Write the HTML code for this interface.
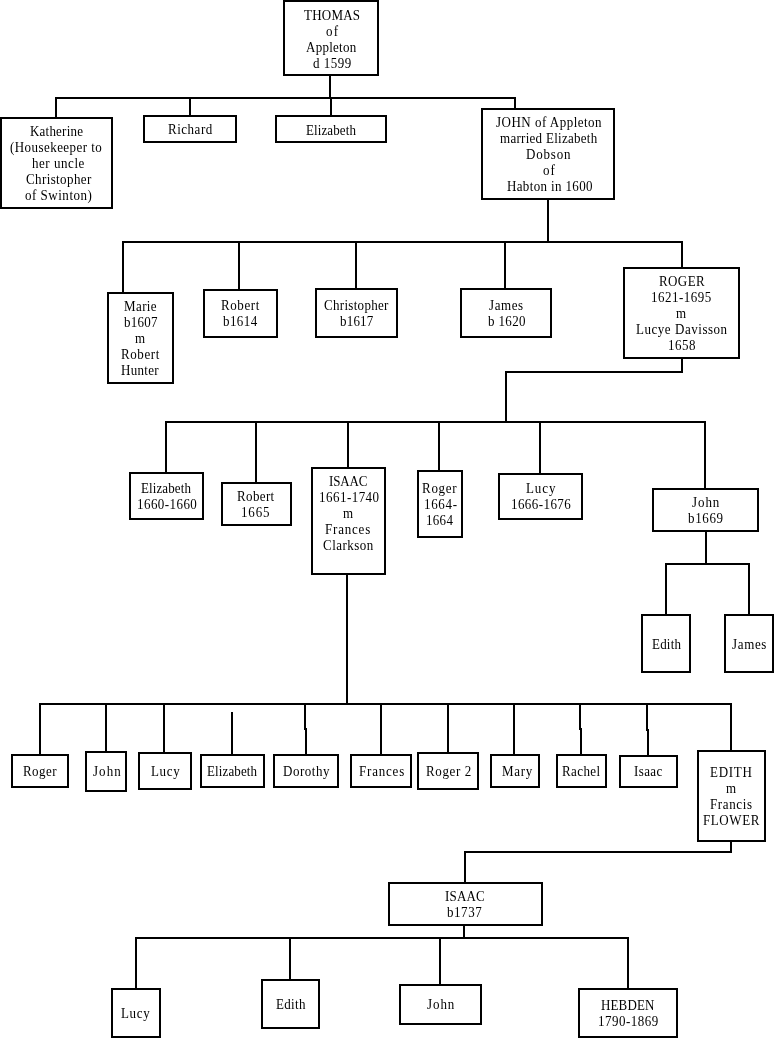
<!DOCTYPE html>
<html><head><meta charset="utf-8"><style>
html,body{margin:0;padding:0;background:#fff;}
body{position:relative;overflow:hidden;font-family:"Liberation Serif",serif;font-size:13px;line-height:16px;color:#000;}
i{position:absolute;background:#000;display:block;}
b{position:absolute;border:2px solid #000;display:block;}
p{position:absolute;margin:0;white-space:nowrap;height:16px;transform:scaleY(1.15);transform-origin:0 12px;will-change:transform;-webkit-text-stroke:0px #000;text-shadow:none;}
body{width:774px;height:1038px;}
</style></head><body>
<i style="left:329px;top:76px;width:2px;height:23px"></i>
<i style="left:55px;top:97px;width:461px;height:2px"></i>
<i style="left:55px;top:97px;width:2px;height:22px"></i>
<i style="left:189px;top:97px;width:2px;height:20px"></i>
<i style="left:330px;top:97px;width:2px;height:20px"></i>
<i style="left:514px;top:97px;width:2px;height:13px"></i>
<i style="left:547px;top:200px;width:2px;height:43px"></i>
<i style="left:122px;top:241px;width:561px;height:2px"></i>
<i style="left:122px;top:241px;width:2px;height:53px"></i>
<i style="left:238px;top:241px;width:2px;height:50px"></i>
<i style="left:355px;top:241px;width:2px;height:49px"></i>
<i style="left:504px;top:241px;width:2px;height:49px"></i>
<i style="left:681px;top:241px;width:2px;height:28px"></i>
<i style="left:681px;top:358px;width:2px;height:15px"></i>
<i style="left:505px;top:371px;width:178px;height:2px"></i>
<i style="left:505px;top:371px;width:2px;height:52px"></i>
<i style="left:165px;top:421px;width:541px;height:2px"></i>
<i style="left:165px;top:421px;width:2px;height:53px"></i>
<i style="left:255px;top:421px;width:2px;height:63px"></i>
<i style="left:347px;top:421px;width:2px;height:48px"></i>
<i style="left:438px;top:421px;width:2px;height:51px"></i>
<i style="left:539px;top:421px;width:2px;height:54px"></i>
<i style="left:704px;top:421px;width:2px;height:69px"></i>
<i style="left:705px;top:532px;width:2px;height:33px"></i>
<i style="left:665px;top:563px;width:85px;height:2px"></i>
<i style="left:665px;top:563px;width:2px;height:53px"></i>
<i style="left:748px;top:563px;width:2px;height:53px"></i>
<i style="left:346px;top:575px;width:2px;height:130px"></i>
<i style="left:39px;top:703px;width:693px;height:2px"></i>
<i style="left:39px;top:703px;width:2px;height:53px"></i>
<i style="left:105px;top:703px;width:2px;height:50px"></i>
<i style="left:163px;top:703px;width:2px;height:51px"></i>
<i style="left:231px;top:712px;width:2px;height:44px"></i>
<i style="left:304px;top:703px;width:2px;height:27px"></i>
<i style="left:305px;top:728px;width:2px;height:28px"></i>
<i style="left:380px;top:703px;width:2px;height:53px"></i>
<i style="left:447px;top:703px;width:2px;height:51px"></i>
<i style="left:513px;top:703px;width:2px;height:53px"></i>
<i style="left:579px;top:703px;width:2px;height:27px"></i>
<i style="left:580px;top:728px;width:2px;height:28px"></i>
<i style="left:646px;top:703px;width:2px;height:28px"></i>
<i style="left:647px;top:729px;width:2px;height:28px"></i>
<i style="left:730px;top:703px;width:2px;height:49px"></i>
<i style="left:730px;top:841px;width:2px;height:12px"></i>
<i style="left:464px;top:851px;width:268px;height:2px"></i>
<i style="left:464px;top:851px;width:2px;height:33px"></i>
<i style="left:463px;top:925px;width:2px;height:14px"></i>
<i style="left:135px;top:937px;width:494px;height:2px"></i>
<i style="left:135px;top:937px;width:2px;height:53px"></i>
<i style="left:289px;top:937px;width:2px;height:44px"></i>
<i style="left:439px;top:937px;width:2px;height:49px"></i>
<i style="left:627px;top:937px;width:2px;height:53px"></i>
<b style="left:283px;top:0px;width:92px;height:72px"></b>
<b style="left:0px;top:117px;width:109px;height:88px"></b>
<b style="left:143px;top:115px;width:90px;height:24px"></b>
<b style="left:275px;top:115px;width:108px;height:24px"></b>
<b style="left:481px;top:108px;width:130px;height:88px"></b>
<b style="left:107px;top:292px;width:63px;height:88px"></b>
<b style="left:203px;top:289px;width:71px;height:45px"></b>
<b style="left:315px;top:288px;width:79px;height:46px"></b>
<b style="left:460px;top:288px;width:88px;height:46px"></b>
<b style="left:623px;top:267px;width:113px;height:88px"></b>
<b style="left:129px;top:472px;width:71px;height:44px"></b>
<b style="left:221px;top:482px;width:67px;height:40px"></b>
<b style="left:311px;top:467px;width:71px;height:104px"></b>
<b style="left:417px;top:470px;width:42px;height:64px"></b>
<b style="left:498px;top:473px;width:81px;height:43px"></b>
<b style="left:652px;top:488px;width:103px;height:40px"></b>
<b style="left:641px;top:614px;width:46px;height:55px"></b>
<b style="left:724px;top:614px;width:46px;height:55px"></b>
<b style="left:11px;top:754px;width:54px;height:30px"></b>
<b style="left:85px;top:751px;width:38px;height:37px"></b>
<b style="left:138px;top:752px;width:50px;height:34px"></b>
<b style="left:200px;top:754px;width:61px;height:30px"></b>
<b style="left:273px;top:754px;width:62px;height:30px"></b>
<b style="left:350px;top:754px;width:58px;height:30px"></b>
<b style="left:417px;top:752px;width:58px;height:34px"></b>
<b style="left:490px;top:754px;width:46px;height:30px"></b>
<b style="left:556px;top:754px;width:47px;height:30px"></b>
<b style="left:619px;top:755px;width:55px;height:29px"></b>
<b style="left:697px;top:750px;width:65px;height:88px"></b>
<b style="left:388px;top:882px;width:151px;height:40px"></b>
<b style="left:111px;top:988px;width:46px;height:46px"></b>
<b style="left:261px;top:979px;width:55px;height:46px"></b>
<b style="left:399px;top:984px;width:79px;height:37px"></b>
<b style="left:578px;top:988px;width:96px;height:46px"></b>
<p style="left:304.10px;top:7.60px;letter-spacing:0.240px;">THOMAS</p>
<p style="left:325.75px;top:23.60px;letter-spacing:1.300px;">of</p>
<p style="left:305.80px;top:39.60px;letter-spacing:0.257px;">Appleton</p>
<p style="left:312.60px;top:55.60px;letter-spacing:0.480px;">d 1599</p>
<p style="left:30.25px;top:124.30px;letter-spacing:0.213px;">Katherine</p>
<p style="left:9.90px;top:140.30px;letter-spacing:0.443px;">(Housekeeper to</p>
<p style="left:31.95px;top:156.30px;letter-spacing:0.538px;">her uncle</p>
<p style="left:25.65px;top:172.30px;letter-spacing:0.390px;">Christopher</p>
<p style="left:24.75px;top:188.30px;letter-spacing:0.510px;">of Swinton)</p>
<p style="left:167.85px;top:121.90px;letter-spacing:0.517px;">Richard</p>
<p style="left:305.90px;top:122.60px;letter-spacing:0.100px;">Elizabeth</p>
<p style="left:495.70px;top:115.40px;letter-spacing:0.493px;">JOHN of Appleton</p>
<p style="left:499.75px;top:131.40px;letter-spacing:0.281px;">married Elizabeth</p>
<p style="left:525.80px;top:147.40px;letter-spacing:0.800px;">Dobson</p>
<p style="left:542.80px;top:163.40px;letter-spacing:1.000px;">of</p>
<p style="left:506.90px;top:179.40px;letter-spacing:0.354px;">Habton in 1600</p>
<p style="left:123.90px;top:299.00px;letter-spacing:0.400px;">Marie</p>
<p style="left:123.65px;top:315.00px;letter-spacing:0.275px;">b1607</p>
<p style="left:134.90px;top:331.00px;">m</p>
<p style="left:120.90px;top:347.00px;letter-spacing:0.600px;">Robert</p>
<p style="left:120.65px;top:363.00px;letter-spacing:0.300px;">Hunter</p>
<p style="left:220.80px;top:298.30px;letter-spacing:0.600px;">Robert</p>
<p style="left:223.15px;top:314.30px;letter-spacing:0.425px;">b1614</p>
<p style="left:323.70px;top:297.90px;letter-spacing:0.300px;">Christopher</p>
<p style="left:339.50px;top:313.90px;letter-spacing:0.200px;">b1617</p>
<p style="left:489.15px;top:297.90px;letter-spacing:0.575px;">James</p>
<p style="left:488.00px;top:313.90px;letter-spacing:0.360px;">b 1620</p>
<p style="left:658.90px;top:274.10px;letter-spacing:0.400px;">ROGER</p>
<p style="left:651.15px;top:290.10px;letter-spacing:0.487px;">1621-1695</p>
<p style="left:676.45px;top:306.10px;">m</p>
<p style="left:635.70px;top:322.10px;letter-spacing:0.538px;">Lucye Davisson</p>
<p style="left:667.90px;top:338.10px;letter-spacing:0.533px;">1658</p>
<p style="left:141.00px;top:481.20px;letter-spacing:0.100px;">Elizabeth</p>
<p style="left:137.15px;top:497.20px;letter-spacing:0.438px;">1660-1660</p>
<p style="left:236.70px;top:489.30px;letter-spacing:0.360px;">Robert</p>
<p style="left:240.60px;top:505.30px;letter-spacing:0.867px;">1665</p>
<p style="left:328.95px;top:474.10px;letter-spacing:-0.175px;">ISAAC</p>
<p style="left:318.73px;top:490.10px;letter-spacing:0.469px;">1661-1740</p>
<p style="left:343.10px;top:506.10px;">m</p>
<p style="left:325.00px;top:522.10px;letter-spacing:0.800px;">Frances</p>
<p style="left:322.70px;top:538.10px;letter-spacing:0.457px;">Clarkson</p>
<p style="left:421.85px;top:481.10px;letter-spacing:0.725px;">Roger</p>
<p style="left:423.55px;top:497.10px;letter-spacing:0.675px;">1664-</p>
<p style="left:425.75px;top:513.10px;letter-spacing:0.300px;">1664</p>
<p style="left:525.75px;top:480.90px;letter-spacing:0.900px;">Lucy</p>
<p style="left:510.80px;top:496.90px;letter-spacing:0.425px;">1666-1676</p>
<p style="left:692.10px;top:495.30px;letter-spacing:0.933px;">John</p>
<p style="left:687.75px;top:511.30px;letter-spacing:0.625px;">b1669</p>
<p style="left:651.80px;top:637.20px;letter-spacing:0.200px;">Edith</p>
<p style="left:732.10px;top:637.20px;letter-spacing:0.650px;">James</p>
<p style="left:22.50px;top:764.20px;letter-spacing:0.450px;">Roger</p>
<p style="left:92.85px;top:764.20px;letter-spacing:1.033px;">John</p>
<p style="left:150.60px;top:764.20px;letter-spacing:0.667px;">Lucy</p>
<p style="left:207.00px;top:764.20px;letter-spacing:0.125px;">Elizabeth</p>
<p style="left:282.95px;top:764.20px;letter-spacing:0.517px;">Dorothy</p>
<p style="left:358.60px;top:764.20px;letter-spacing:0.800px;">Frances</p>
<p style="left:425.85px;top:764.20px;letter-spacing:0.617px;">Roger 2</p>
<p style="left:501.90px;top:764.20px;letter-spacing:0.667px;">Mary</p>
<p style="left:561.80px;top:764.20px;letter-spacing:0.400px;">Rachel</p>
<p style="left:633.80px;top:764.20px;letter-spacing:0.400px;">Isaac</p>
<p style="left:710.25px;top:765.30px;letter-spacing:0.725px;">EDITH</p>
<p style="left:726.30px;top:781.30px;">m</p>
<p style="left:709.55px;top:797.30px;letter-spacing:0.617px;">Francis</p>
<p style="left:702.75px;top:813.30px;letter-spacing:0.580px;">FLOWER</p>
<p style="left:445.35px;top:888.70px;letter-spacing:0.175px;">ISAAC</p>
<p style="left:447.20px;top:904.70px;letter-spacing:0.550px;">b1737</p>
<p style="left:120.70px;top:1006.40px;letter-spacing:0.667px;">Lucy</p>
<p style="left:275.55px;top:996.80px;letter-spacing:0.325px;">Edith</p>
<p style="left:426.60px;top:997.30px;letter-spacing:0.933px;">John</p>
<p style="left:601.05px;top:998.40px;letter-spacing:0.140px;">HEBDEN</p>
<p style="left:597.85px;top:1014.40px;letter-spacing:0.487px;">1790-1869</p>
</body></html>
